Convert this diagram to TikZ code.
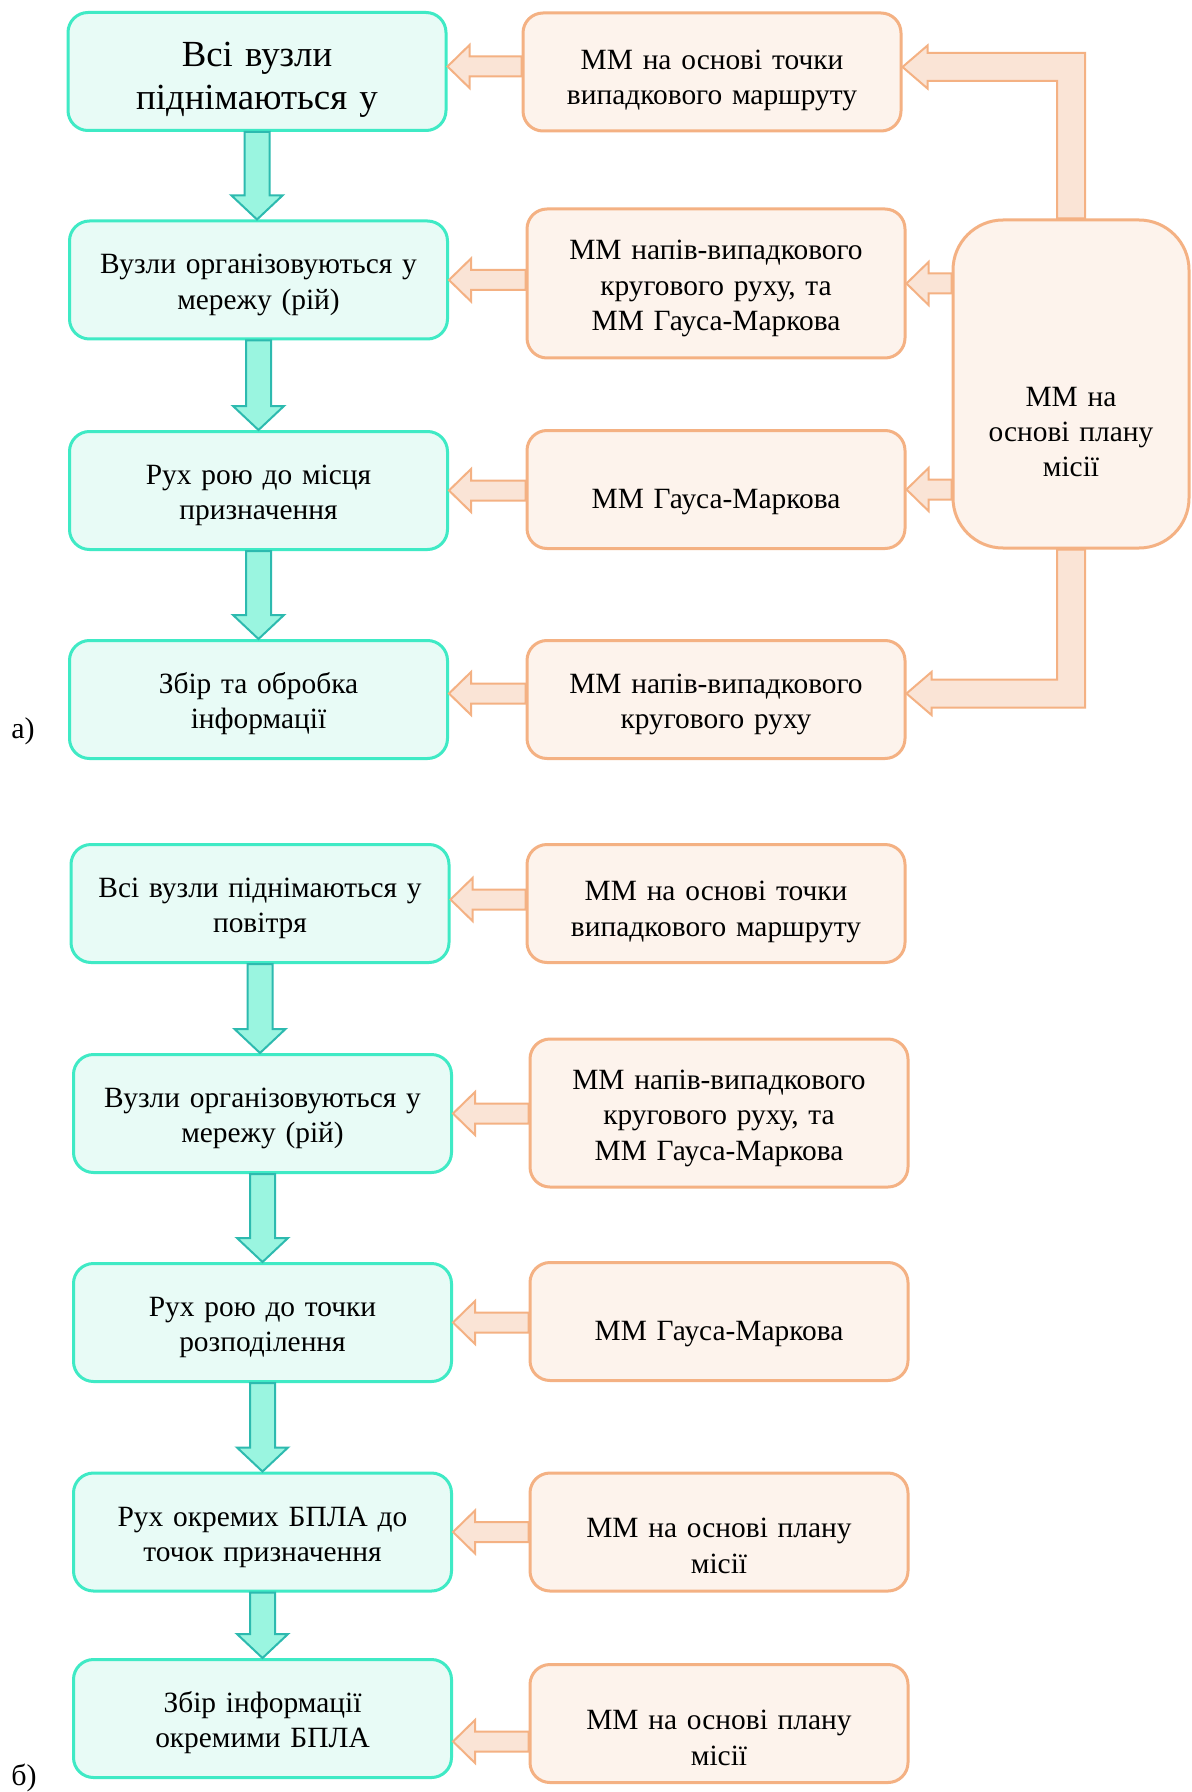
\documentclass[tikz,border=0pt]{standalone}
\usepackage{fontspec}
\setmainfont{Liberation Serif}
\usetikzlibrary{calc}

\definecolor{stageline}{HTML}{3FEAC5}
\definecolor{stagefill}{HTML}{E8FBF6}
\definecolor{stagearrow}{HTML}{9AF5E0}
\definecolor{stagearrowline}{HTML}{2DBAAF}
\definecolor{modelline}{HTML}{F4B183}
\definecolor{modelfill}{HTML}{FDF3EC}
\definecolor{modelarrow}{HTML}{FAE4D6}

\tikzset{
    stage/.style={draw=stageline, fill=stagefill, line width=1.5pt, rounded corners=10pt,
        minimum width=189pt, minimum height=59pt, text width=180pt, align=center,
        inner sep=0pt, font=\fontsize{14.7}{17.7}\selectfont,
        execute at begin node={\rule{0pt}{15.2pt}},
        execute at end node={\rule[-3.5pt]{0pt}{3.5pt}}},
    model/.style={stage, draw=modelline, fill=modelfill},
    stageflow/.style={draw=stagearrowline, fill=stagearrow, line width=1pt},
    modelflow/.style={draw=modelline, fill=modelarrow, line width=1pt},
    tag/.style={inner sep=0pt, font=\fontsize{15}{18}\selectfont}
}

% thick arrow straight down from #1 to #2
\newcommand{\downflow}[2]{%
    \coordinate (tip) at (#1.south |- #2.north);
    \draw[stageflow] ($(#1.south)+(-12.5,0)$) -- ($(tip)+(-12.5,-24)$) -- ($(tip)+(-25.5,-24)$)
        -- (tip) -- ($(tip)+(25.5,-24)$) -- ($(tip)+(12.5,-24)$) -- ($(#1.south)+(12.5,0)$) -- cycle;}
% thick arrow to the left from #2 to #3, shifted by #1
\newcommand{\leftflow}[3][0]{%
    \coordinate (tip) at ($(#3.east)+(0,#1)$);
    \draw[modelflow] ($(#2.west |- tip)+(0,-10)$) -- ($(tip)+(22,-10)$) -- ($(tip)+(22,-21.5)$)
        -- (tip) -- ($(tip)+(22,21.5)$) -- ($(tip)+(22,10)$) -- ($(#2.west |- tip)+(0,10)$) -- cycle;}
% up from #2, then left to #3
\newcommand{\upleftflow}[3][0]{%
    \coordinate (tip) at ($(#3.east)+(0,#1)$);
    \coordinate (bend) at (#2.north |- tip);
    \draw[modelflow] ($(#2.north)+(-14,0)$) -- ($(bend)+(-14,14)$) -- ($(tip)+(25,14)$) -- ($(tip)+(25,21.5)$)
        -- (tip) -- ($(tip)+(25,-21.5)$) -- ($(tip)+(25,-14)$) -- ($(bend)+(14,-14)$) -- ($(#2.north)+(14,0)$) -- cycle;}
% down from #2, then left to #3
\newcommand{\downleftflow}[3][0]{%
    \coordinate (tip) at ($(#3.east)+(0,#1)$);
    \coordinate (bend) at (#2.south |- tip);
    \draw[modelflow] ($(#2.south)+(-14,0)$) -- ($(bend)+(-14,-14)$) -- ($(tip)+(25,-14)$) -- ($(tip)+(25,-21.5)$)
        -- (tip) -- ($(tip)+(25,21.5)$) -- ($(tip)+(25,14)$) -- ($(bend)+(14,14)$) -- ($(#2.south)+(14,0)$) -- cycle;}

\begin{document}
\begin{tikzpicture}[x=0.5pt, y=-0.5pt]
    \useasboundingbox[fill=white] (0,0) rectangle (1192,1792);

    % a)
    \node[stage, font=\fontsize{18.4}{21.7}\selectfont] (a1) at (257,71.5) {\rule{0pt}{20.3pt}Всі вузли\\піднімаються у};
    \node[stage] (a2) at (258.5,280) {Вузли організовуються у\\мережу (рій)};
    \node[stage] (a3) at (258.5,490.5) {Рух рою до місця\\призначення};
    \node[stage] (a4) at (258.5,699.5) {Збір та обробка\\інформації};

    \node[model] (ma1) at (712,72) {\rule{0pt}{18.6pt}ММ на основі точки\\випадкового маршруту};
    \node[model, minimum height=74.5pt] (ma2) at (716,283.5) {ММ напів-випадкового\\кругового руху, та\\ММ Гауса-Маркова};
    \node[model] (ma3) at (716,489.5) {\rule{0pt}{22.3pt}ММ Гауса-Маркова};
    \node[model] (ma4) at (716,699.5) {ММ напів-випадкового\\кругового руху};
    \node[model, minimum width=118pt, minimum height=164pt, text width=105pt,
        rounded corners=25pt] (plan) at (1071,384) {\rule{0pt}{61pt}ММ на\\основі плану\\місії};

    \node[tag] (taga) at (23,731) {а)};

    \downflow{a1}{a2}
    \downflow{a2}{a3}
    \downflow{a3}{a4}

    \leftflow[-5]{ma1}{a1}
    \leftflow{ma2}{a2}
    \leftflow{ma3}{a3}
    \leftflow[-6]{ma4}{a4}

    \upleftflow[-5]{plan}{ma1}
    \leftflow{plan}{ma2}
    \leftflow{plan}{ma3}
    \downleftflow[-6]{plan}{ma4}

    % b)
    \node[stage] (b1) at (260,903.5) {Всі вузли піднімаються у\\повітря};
    \node[stage] (b2) at (262.5,1113.5) {Вузли організовуються у\\мережу (рій)};
    \node[stage] (b3) at (262.5,1322.5) {Рух рою до точки\\розподілення};
    \node[stage] (b4) at (262.5,1532) {Рух окремих БПЛА до\\точок призначення};
    \node[stage] (b5) at (262.5,1718.5) {Збір інформації\\окремими БПЛА};

    \node[model] (mb1) at (716,903.5) {\rule{0pt}{18.6pt}ММ на основі точки\\випадкового маршруту};
    \node[model, minimum height=74pt] (mb2) at (719,1113) {ММ напів-випадкового\\кругового руху, та\\ММ Гауса-Маркова};
    \node[model] (mb3) at (719,1321.5) {\rule{0pt}{22.8pt}ММ Гауса-Маркова};
    \node[model] (mb4) at (719,1532) {\rule{0pt}{26.8pt}ММ на основі плану\\місії};
    \node[model] (mb5) at (719,1723.5) {\rule{0pt}{27.3pt}ММ на основі плану\\місії};

    \node[tag] (tagb) at (24,1778) {б)};

    \downflow{b1}{b2}
    \downflow{b2}{b3}
    \downflow{b3}{b4}
    \downflow{b4}{b5}

    \leftflow[-4]{mb1}{b1}
    \leftflow{mb2}{b2}
    \leftflow{mb3}{b3}
    \leftflow{mb4}{b4}
    \leftflow[23]{mb5}{b5}
\end{tikzpicture}
\end{document}
